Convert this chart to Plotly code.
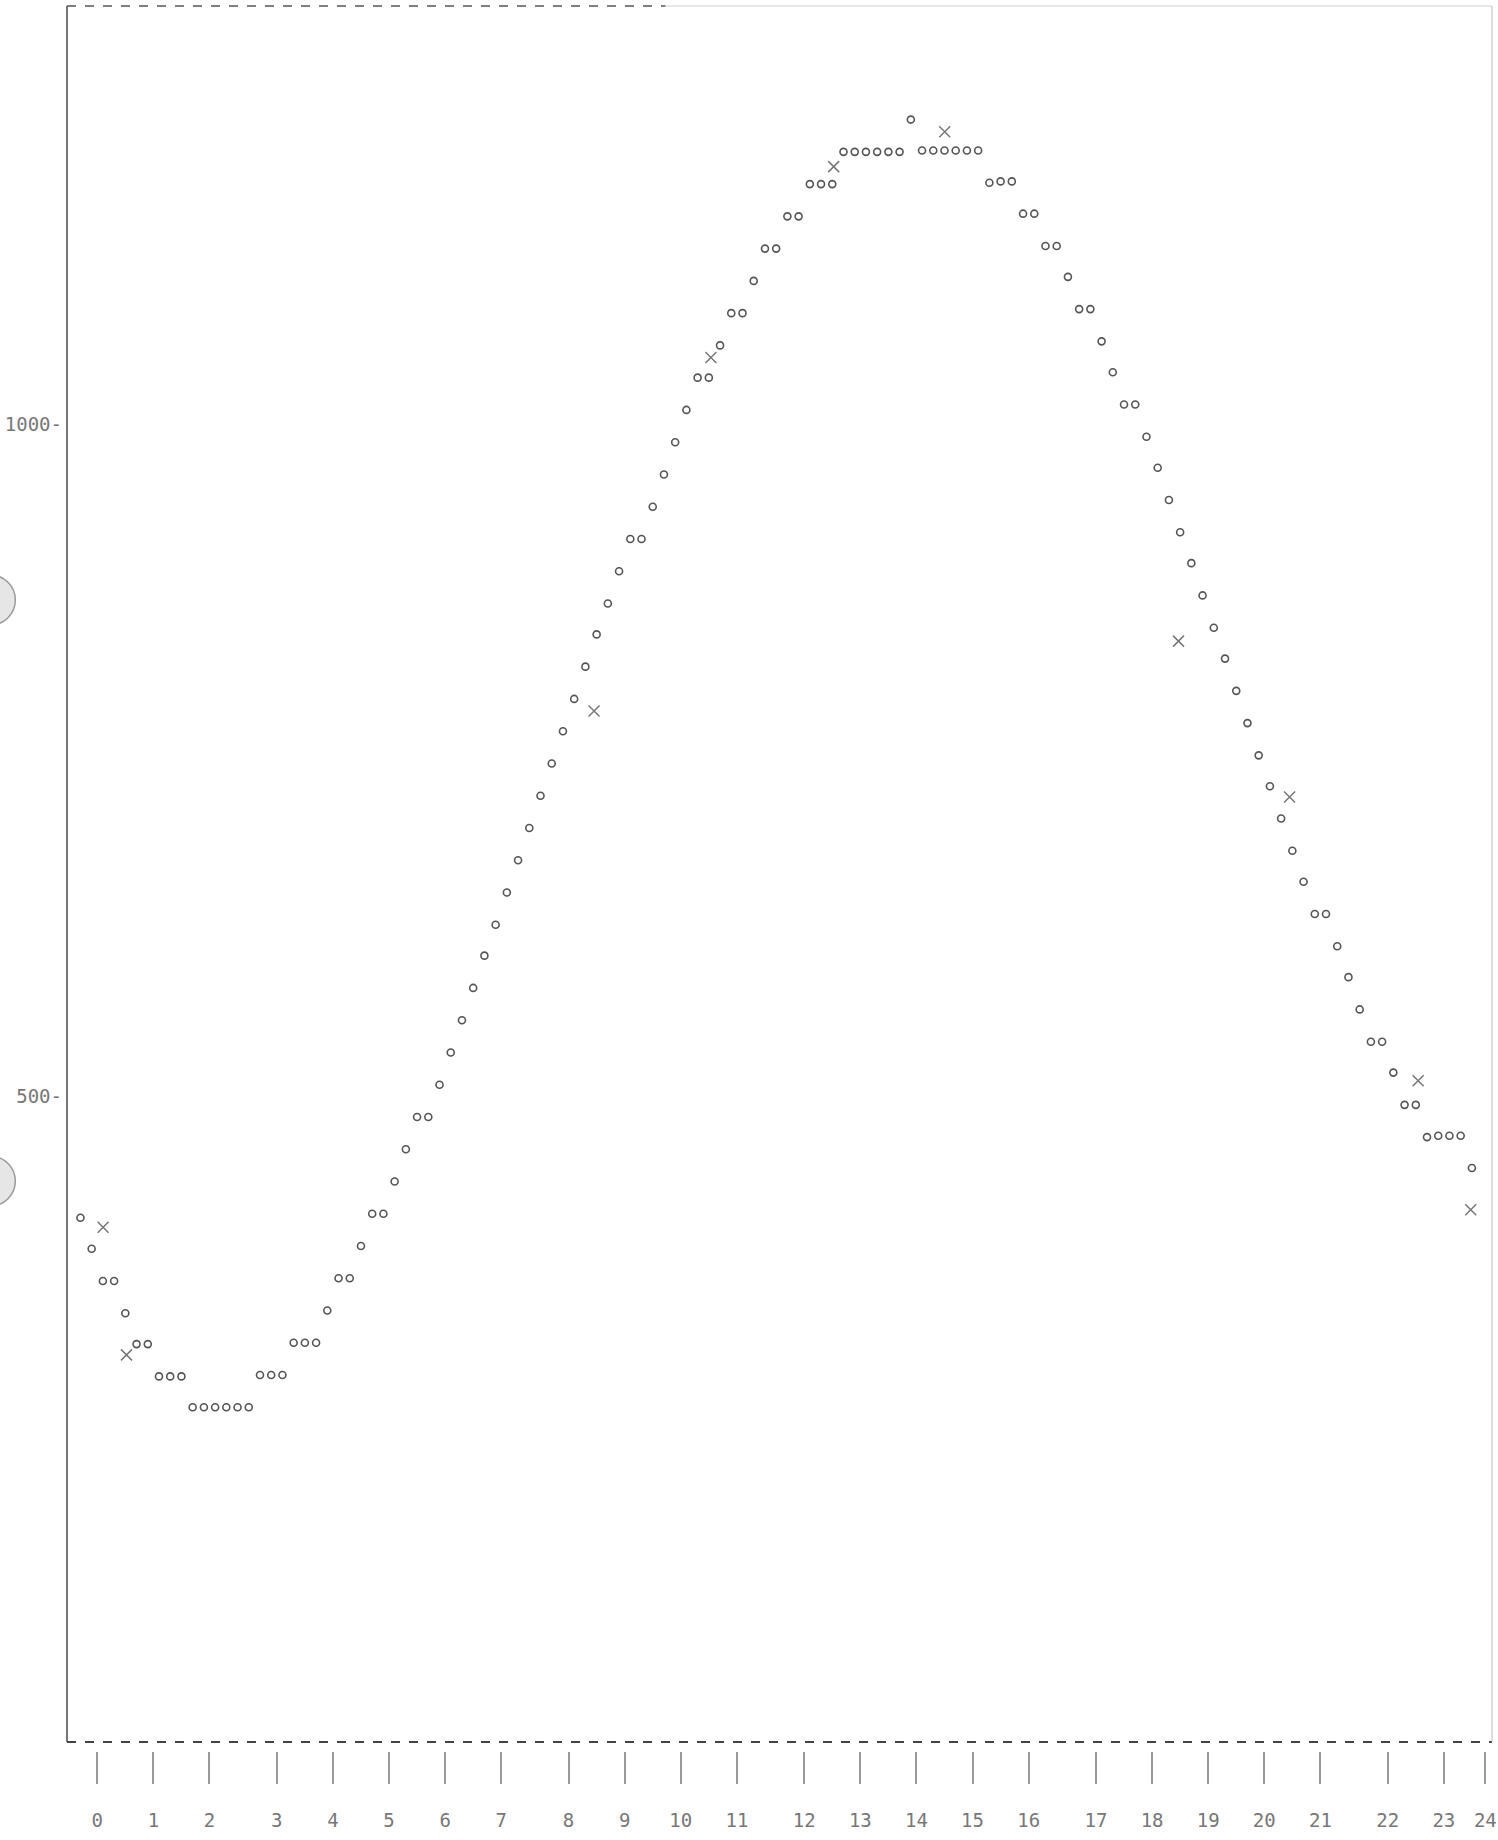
import plotly.graph_objects as go

# ---- data ----
HOURS = list(range(25))                      # x tick labels (hour of day)
# print column of each hour tick, as printed (the last one squeezed at the edge)
TICK_COLS = [0, 5, 10, 16, 21, 26, 31, 36, 42, 47, 52, 57, 63,
             68, 73, 78, 83, 89, 94, 99, 104, 109, 115, 120, 123.7]
Y_TICKS = [500, 1000]
Y_TICK_TEXT = ["500-", "1000-"]

# printed series (one value per print column), time step in hours
T0 = -0.288
DT = 0.192
DOT_VALUES = [410, 387, 363, 363, 339, 316, 316, 292, 292, 292,
              269, 269, 269, 269, 269, 269, 293, 293, 293, 317,
              317, 317, 341, 365, 365, 389, 413, 413, 437, 461,
              485, 485, 509, 533, 557, 581, 605, 628, 652, 676,
              700, 724, 748, 772, 796, 820, 844, 867, 891, 915,
              915, 939, 963, 987, 1011, 1035, 1035, 1059, 1083, 1083,
              1107, 1131, 1131, 1155, 1155, 1179, 1179, 1179, 1203, 1203,
              1203, 1203, 1203, 1203, 1227, 1204, 1204, 1204, 1204, 1204,
              1204, 1180, 1181, 1181, 1157, 1157, 1133, 1133, 1110, 1086,
              1086, 1062, 1039, 1015, 1015, 991, 968, 944, 920, 897,
              873, 849, 826, 802, 778, 754, 731, 707, 683, 660,
              636, 636, 612, 589, 565, 541, 541, 518, 494, 494,
              470, 471, 471, 471, 447]
DOT_TIMES = [T0 + i * DT for i in range(len(DOT_VALUES))]

# "X" marks (observations)
X_TIMES = [0.1, 0.5, 8.5, 10.5, 12.6, 14.5, 18.5, 20.4, 22.6, 23.5]
X_VALUES = [403, 308, 787, 1050, 1192, 1218, 839, 723, 512, 416]

TICK_POS = [c * DT for c in TICK_COLS]

FONT = "DejaVu Sans Mono"

fig = go.Figure()
fig.add_trace(go.Scatter(
    x=DOT_TIMES, y=DOT_VALUES, mode="markers",
    marker=dict(symbol="circle-open", size=7, color="#555555",
                line=dict(width=1.6, color="#555555")),
    showlegend=False, hoverinfo="x+y"))
fig.add_trace(go.Scatter(
    x=X_TIMES, y=X_VALUES, mode="markers",
    marker=dict(symbol="x-thin-open", size=11, color="#777777",
                line=dict(width=1.5, color="#777777")),
    showlegend=False, hoverinfo="x+y"))

# frame drawn as separate edges (printout look)
edge = dict(xref="x domain", yref="y domain", type="line")
shapes = [
    dict(**edge, x0=0, x1=0, y0=0, y1=1, line=dict(color="#555555", width=1.6)),
    dict(**edge, x0=0, x1=1, y0=0, y1=0, line=dict(color="#444444", width=2, dash="dash")),
    dict(**edge, x0=0, x1=0.42, y0=1, y1=1, line=dict(color="#555555", width=1.6, dash="dash")),
    dict(**edge, x0=0.42, x1=1, y0=1, y1=1, line=dict(color="#d0d0d0", width=1)),
    dict(**edge, x0=1, x1=1, y0=0, y1=1, line=dict(color="#bbbbbb", width=1)),
]
# punch holes at the left edge of the sheet
for ya in (0.6596, 0.3266):
    shapes.append(dict(type="circle", xref="paper", yref="paper",
                       xsizemode="pixel", ysizemode="pixel",
                       xanchor=-0.0538, yanchor=ya,
                       x0=-25, x1=25, y0=-25, y1=25,
                       fillcolor="#e6e6e6", line=dict(color="#9a9a9a", width=1.5),
                       layer="above"))

fig.update_layout(
    width=1498, height=1840,
    margin=dict(l=67, r=1, t=6, b=89),
    paper_bgcolor="white", plot_bgcolor="white",
    font=dict(family=FONT, color="#777777", size=19),
    shapes=shapes,
    xaxis=dict(range=[-0.518, 23.864], anchor="free", position=0,
               showgrid=False, zeroline=False, showline=False,
               tickmode="array", tickvals=TICK_POS, ticktext=[str(h) for h in HOURS],
               ticks="outside", ticklen=32, tickwidth=1.5, tickcolor="#999999",
               ticklabelstandoff=20, ticklabeloverflow="allow",
               tickfont=dict(family=FONT, size=19, color="#777777")),
    yaxis=dict(range=[20, 1311.5], domain=[0.00516, 1],
               showgrid=False, zeroline=False, showline=False,
               tickmode="array", tickvals=Y_TICKS, ticktext=Y_TICK_TEXT,
               ticks="", ticklabelstandoff=4,
               tickfont=dict(family=FONT, size=19, color="#777777")),
)

fig.write_html("out.html", config={"displayModeBar": False},
               post_script="document.body.style.margin='0px';")
